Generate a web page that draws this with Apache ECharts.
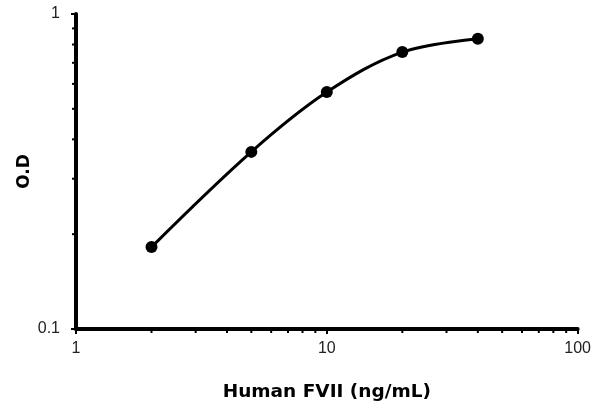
<!DOCTYPE html>
<html>
<head>
<meta charset="utf-8">
<script src="https://cdn.jsdelivr.net/npm/echarts@6/dist/echarts.min.js"></script>
<style>
  html, body { margin: 0; padding: 0; background: #fff; }
  #chart { width: 594px; height: 407px; }
</style>
</head>
<body>
<div id="chart"></div>
<script>
// standard curve: concentration vs optical density (log-log)
const conc = [2, 5, 10, 20, 40];
const od = [0.182, 0.365, 0.565, 0.757, 0.834];
const xMinorTicks = [2, 3, 4, 5, 6, 7, 8, 9, 20, 30, 40, 50, 60, 70, 80, 90];
const yMinorTicks = [0.2, 0.3, 0.4, 0.5, 0.6, 0.7, 0.8, 0.9];

const chart = echarts.init(document.getElementById("chart"), null, { renderer: "canvas" });
const font = "'Liberation Sans', Arial, sans-serif";
const titleFont = "'DejaVu Sans', sans-serif";

// short outside ticks at 2..9 of each decade, drawn through the axis scales
function minorTicks(params, api) {
  if (params.dataIndex > 0) return null;
  const kids = [];
  xMinorTicks.forEach((v) => {
    const p = api.coord([v, 0.1]);
    kids.push({ type: "line", shape: { x1: p[0], y1: p[1], x2: p[0], y2: p[1] + 4 }, style: { stroke: "#000", lineWidth: 2 } });
  });
  yMinorTicks.forEach((v) => {
    const p = api.coord([1, v]);
    kids.push({ type: "line", shape: { x1: p[0], y1: p[1], x2: p[0] - 4, y2: p[1] }, style: { stroke: "#000", lineWidth: 2 } });
  });
  return { type: "group", children: kids };
}

chart.setOption({
  animation: false,
  grid: { left: 76, right: 16, top: 14, bottom: 78 },
  xAxis: {
    type: "log", min: 1, max: 100, logBase: 10,
    name: "Human FVII (ng/mL)", nameLocation: "middle", nameGap: 54,
    nameTextStyle: { fontFamily: titleFont, fontSize: 18.5, fontWeight: "bold", color: "#000" },
    axisLine: { lineStyle: { color: "#000", width: 4 } },
    axisTick: { inside: false, length: 5, lineStyle: { color: "#000", width: 2 } },
    axisLabel: { fontFamily: font, fontSize: 16, color: "#222", margin: 12 },
    splitLine: { show: false },
  },
  yAxis: {
    type: "log", min: 0.1, max: 1, logBase: 10,
    name: "O.D", nameLocation: "middle", nameGap: 43, nameRotate: 90, nameMoveOverlap: false,
    nameTextStyle: { fontFamily: titleFont, fontSize: 17, fontWeight: "bold", color: "#000" },
    axisLine: { lineStyle: { color: "#000", width: 4 } },
    axisTick: { inside: false, length: 5, lineStyle: { color: "#000", width: 2 } },
    axisLabel: { fontFamily: font, fontSize: 16, color: "#222", margin: 16 },
    splitLine: { show: false },
  },
  series: [
    {
      type: "line", data: conc.map((c, i) => [c, od[i]]), smooth: 0.35,
      symbol: "circle", symbolSize: 12,
      lineStyle: { color: "#000", width: 3 }, itemStyle: { color: "#000" },
    },
    {
      type: "custom", renderItem: minorTicks, data: [[1, 0.1]], clip: false, silent: true,
    },
  ],
});
</script>
</body>
</html>
